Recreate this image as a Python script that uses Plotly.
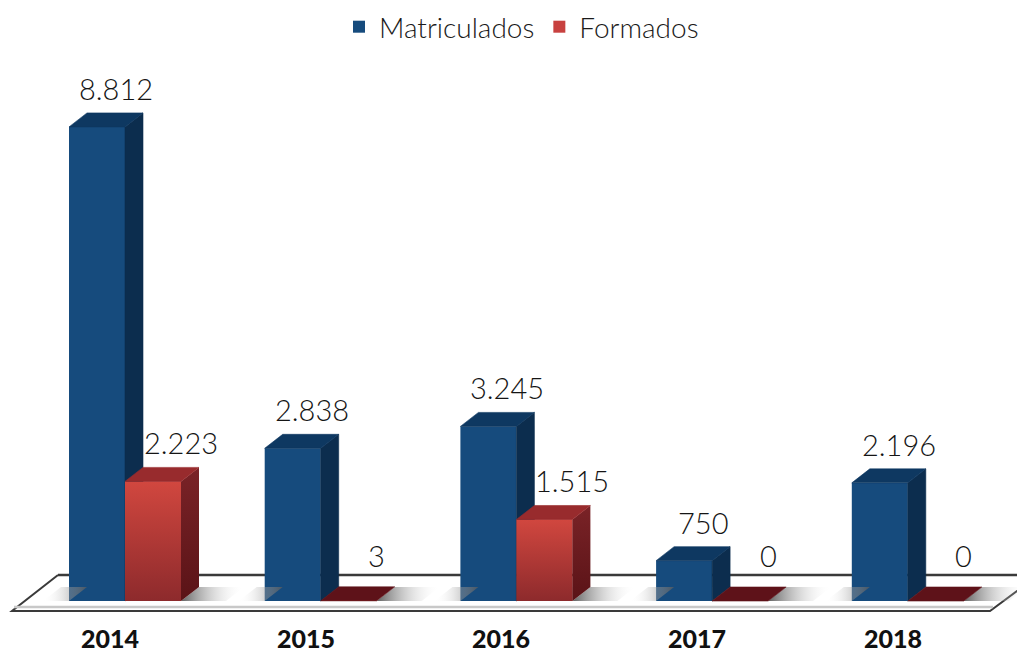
import plotly.graph_objects as go

# ---- data ----
years = ["2014", "2015", "2016", "2017", "2018"]
matriculados = [8812, 2838, 3245, 750, 2196]
formados = [2223, 3, 1515, 0, 0]
series_names = ["Matriculados", "Formados"]

# ---- geometry (pixel-based calibration of the axes) ----
OFF = 8                      # default page body margin
W, H = 1025 - 2 * OFF, 662 - 2 * OFF
X0_PX, STEP_PX, BASE_PX, PX_PER_UNIT = 125, 195.7, 601, 0.0538


def xd(px):
    return (px - X0_PX) / STEP_PX


def yd(py):
    return (BASE_PX - py) / PX_PER_UNIT


BW = 56 / STEP_PX          # bar width (x units)
DX = 18 / STEP_PX          # depth offset x
DY = 14 / PX_PER_UNIT      # depth offset y

BLUE_FRONT, BLUE_SIDE, BLUE_TOP = "#164b7d", "#0c2d4e", "#0e3861"
RED_LEG = "#c8413f"
RED_SIDE_TOP, RED_SIDE_BOT = "#7a2327", "#5a1317"
RED_TOP, RED_TOP_FLAT = "#982b2d", "#5e1219"

FONT = "Lato"

fig = go.Figure()

xs = list(range(len(years)))

# front faces (bars via axis scales)
fig.add_trace(go.Bar(x=[i - BW / 2 for i in xs], y=matriculados, width=BW,
                     marker=dict(color=BLUE_FRONT, line=dict(width=0)),
                     name=series_names[0], hoverinfo="skip"))
fig.add_trace(go.Bar(x=[i + BW / 2 for i in xs], y=formados, width=BW,
                     marker=dict(color=RED_LEG, line=dict(width=0)),
                     name=series_names[1], hoverinfo="skip"))


def face(xp, yp, color=None, grad=None):
    kw = dict(x=xp + [xp[0]], y=yp + [yp[0]], mode="lines", fill="toself",
              showlegend=False, hoverinfo="skip")
    if grad is not None:
        kw["fillgradient"] = grad
        kw["line"] = dict(width=0)
    else:
        kw["fillcolor"] = color
        kw["line"] = dict(width=0.6, color=color)
    fig.add_trace(go.Scatter(**kw))


# floor shadows
for i in xs:
    left = i - BW
    right = i + BW + DX
    face([left - 26 / STEP_PX, left, left + DX, left - 26 / STEP_PX + DX],
         [0, 0, DY, DY],
         grad=dict(type="horizontal", colorscale=[[0, "rgba(255,255,255,0)"], [1, "rgba(90,90,90,0.75)"]]))
    face([right - DX, right + 45 / STEP_PX - DX, right + 45 / STEP_PX, right],
         [0, 0, DY, DY],
         grad=dict(type="horizontal", colorscale=[[0, "rgba(70,70,70,0.85)"], [1, "rgba(255,255,255,0)"]]))

for i, v, r in zip(xs, matriculados, formados):
    # blue side and top
    face([i, i + DX, i + DX, i], [0, DY, v + DY, v], BLUE_SIDE)
    face([i - BW, i, i + DX, i - BW + DX], [v, v, v + DY, v + DY], BLUE_TOP)
    # red front (gradient), side and top
    if r > 0:
        face([i, i + BW, i + BW, i], [0, 0, r, r],
             grad=dict(type="vertical", start=0, stop=r,
                       colorscale=[[0, "#8d2a2c"], [1, "#d1473f"]]))
        face([i + BW, i + BW + DX, i + BW + DX, i + BW], [0, DY, r + DY, r],
             grad=dict(type="vertical", start=0, stop=r + DY,
                       colorscale=[[0, RED_SIDE_BOT], [1, RED_SIDE_TOP]]))
    face([i, i + BW, i + BW + DX, i + DX], [r, r, r + DY, r + DY],
         RED_TOP if r > 50 else RED_TOP_FLAT)

# floor (decorative plane)
floor_line = "#3a3a3a"
fig.add_shape(type="path", layer="below",
              path=f"M {xd(58)} {yd(575)} L {xd(1025)} {yd(575)} L {xd(1025)} {yd(585)} "
                   f"L {xd(990)} {yd(611)} L {xd(12)} {yd(611)} Z",
              fillcolor="white", line=dict(width=0))
fig.add_shape(type="line", layer="below", x0=xd(58), y0=yd(575), x1=xd(1025), y1=yd(575),
              line=dict(color=floor_line, width=2.5))
fig.add_shape(type="path", layer="below",
              path=f"M {xd(58)} {yd(575)} L {xd(12)} {yd(611)} L {xd(990)} {yd(611)} L {xd(1025)} {yd(585)}",
              line=dict(color=floor_line, width=2))
fig.add_shape(type="line", layer="below", x0=xd(14), y0=yd(607), x1=xd(993), y1=yd(607),
              line=dict(color="#c8c8c8", width=2.5))

# value labels
fmt = lambda v: f"{v:,}".replace(",", ".")
for i, v, r in zip(xs, matriculados, formados):
    for cx, val, shift in ((i - BW / 2, v, 19), (i + BW / 2, r, 28)):
        fig.add_annotation(x=cx + shift / STEP_PX, y=val + DY, text=fmt(val), showarrow=False,
                           yanchor="bottom", yshift=5 if val > 500 else 12,
                           font=dict(family=FONT, size=29, color="#151515", weight=300))

# year labels
for i, yr in zip(xs, years):
    fig.add_annotation(x=i - 15 / STEP_PX, y=yd(638), text=yr, showarrow=False,
                       font=dict(family=FONT, size=25, color="#111111", weight=900))

fig.update_layout(
    width=W, height=H,
    margin=dict(l=0, r=0, t=0, b=0, autoexpand=False),
    paper_bgcolor="white", plot_bgcolor="white",
    barmode="overlay",
    xaxis=dict(visible=False, range=[xd(OFF), xd(OFF + W)], fixedrange=True),
    yaxis=dict(visible=False, range=[yd(OFF + H), yd(OFF)], fixedrange=True),
    legend=dict(orientation="h", x=0.5 + 9 / W, xanchor="center", y=1 - (27 - OFF) / H, yanchor="middle",
                font=dict(family=FONT, size=28, color="#1a1a1a", weight=300),
                bgcolor="rgba(0,0,0,0)", itemwidth=30),
    showlegend=True,
)

fig.write_html("out.html")
